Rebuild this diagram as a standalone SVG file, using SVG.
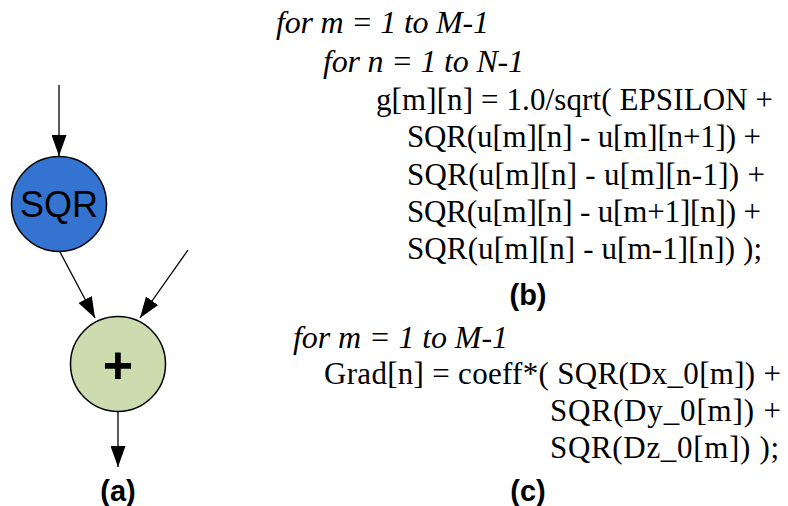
<svg xmlns="http://www.w3.org/2000/svg" width="788" height="506" viewBox="0 0 788 506">
<style>
.code{font-family:"Liberation Serif","Times New Roman",serif;font-size:31px;fill:#000}
.it{font-style:italic;font-size:32px}
.lbl{font-family:"Liberation Sans",Arial,sans-serif;font-size:29px;font-weight:bold;fill:#000;text-anchor:middle}
.edge{stroke:#000;stroke-width:1.3;fill:none;marker-end:url(#arr)}
</style>
<defs>
<marker id="arr" viewBox="0 0 21 15" refX="21" refY="7.5" markerWidth="21" markerHeight="15" markerUnits="userSpaceOnUse" orient="auto">
<path d="M0,0 L21,7.5 L0,15 Z" fill="#000"/>
</marker>
</defs>
<rect width="788" height="506" fill="#fff"/>
<g id="connectors">
<line class="edge" x1="59" y1="85" x2="59" y2="156"/>
<line class="edge" x1="60" y1="252" x2="95" y2="318"/>
<line class="edge" x1="188" y1="250" x2="140" y2="318"/>
<line class="edge" x1="118" y1="411" x2="118" y2="467"/>
</g>
<g id="sqr">
<circle cx="59" cy="204" r="47.5" fill="#3473d0" stroke="#000" stroke-width="1.5"/>
<text x="59" y="217" font-family="Liberation Sans,Arial,sans-serif" font-size="36" text-anchor="middle" fill="#000">SQR</text>
</g>
<g id="add">
<circle cx="118" cy="364" r="47.5" fill="#cddcaf" stroke="#000" stroke-width="1.5"/>
<text x="118" y="383" font-family="Liberation Sans,Arial,sans-serif" font-size="52" font-weight="bold" text-anchor="middle" fill="#000">+</text>
</g>
<text class="lbl" x="118" y="501">(a)</text>
<g id="code-b">
<text class="code it" x="276" y="33" textLength="213">for m = 1 to M-1</text>
<text class="code it" x="323" y="72" textLength="201">for n = 1 to N-1</text>
<text class="code" x="376" y="110" textLength="397">g[m][n] = 1.0/sqrt( EPSILON +</text>
<text class="code" x="407" y="147" textLength="354">SQR(u[m][n] - u[m][n+1]) +</text>
<text class="code" x="407" y="185" textLength="358">SQR(u[m][n] - u[m][n-1])  +</text>
<text class="code" x="407" y="222" textLength="354">SQR(u[m][n] - u[m+1][n]) +</text>
<text class="code" x="407" y="259" textLength="355">SQR(u[m][n] - u[m-1][n]) );</text>
</g>
<text class="lbl" x="528" y="305">(b)</text>
<g id="code-c">
<text class="code it" x="293" y="348" textLength="215">for m = 1 to M-1</text>
<text class="code" x="324" y="384" textLength="457">Grad[n] = coeff*( SQR(Dx_0[m]) +</text>
<text class="code" x="550" y="421" textLength="231">SQR(Dy_0[m]) +</text>
<text class="code" x="550" y="458" textLength="229">SQR(Dz_0[m]) );</text>
</g>
<text class="lbl" x="528" y="501">(c)</text>
</svg>
